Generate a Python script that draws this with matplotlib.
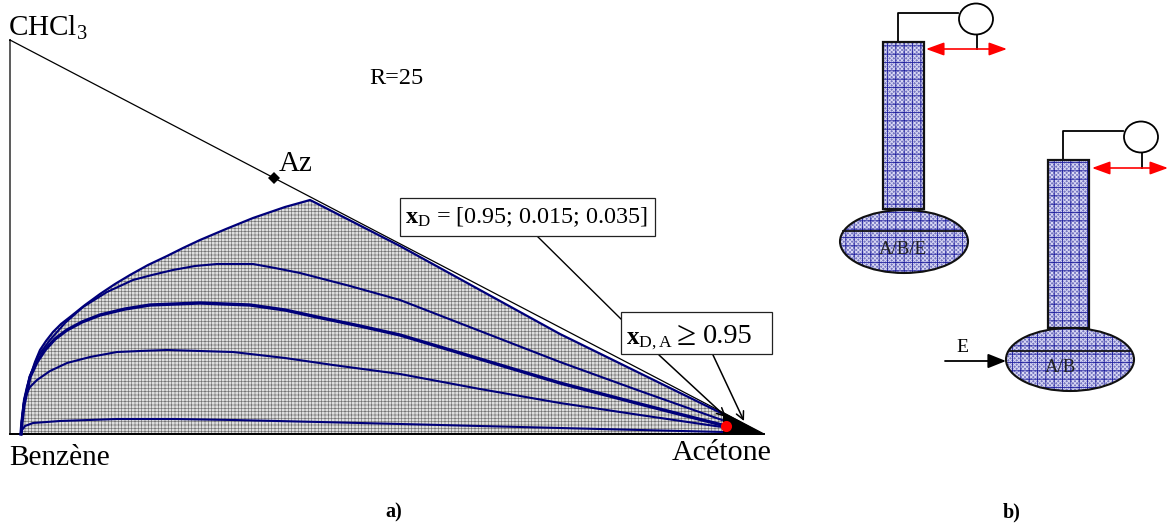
import matplotlib
matplotlib.use("Agg")
import matplotlib.pyplot as plt
from matplotlib.patches import Ellipse, Polygon, Rectangle

plt.rcParams["font.family"] = ["Liberation Serif", "DejaVu Serif"]
plt.rcParams["mathtext.fontset"] = "custom"
plt.rcParams["mathtext.rm"] = "Liberation Serif"
plt.rcParams["mathtext.bf"] = "Liberation Serif:bold"
plt.rcParams["mathtext.it"] = "Liberation Serif:italic"

NAVY = "#00007a"
COL_FILL = "#7474c0"
COL_HATCH = "#2222a0"

# --- Diagramme ternaire (coordonnees lues en pixels sur l'image) ---
triangle_x = [10, 10, 764]
triangle_y = [40, 434, 434]
envelope_x = [21, 21.5, 22, 24, 27, 30, 35, 40, 46, 53, 61, 70, 85, 100, 115, 130, 148, 167, 183,
              200, 226, 253, 285, 303, 310, 316, 400, 560, 723]
envelope_y = [434, 428, 420, 400, 387, 377, 362, 350, 341, 332, 324, 317, 305, 294, 284, 275, 265, 256, 248,
              240, 229, 218, 207, 202, 200, 203, 246, 334, 414]
curve1_x = [21, 22, 24, 30, 38, 50, 65, 83, 107, 133, 152, 173, 195, 217, 235, 253, 275, 300, 350, 400, 480, 560, 640, 722]
curve1_y = [434, 420, 402, 376, 356, 340, 323, 307, 292, 280, 275, 270, 266, 264, 264, 264, 268, 273, 286, 300, 331, 362, 391, 420]
curve2_x = [21, 22, 24, 30, 37, 45, 55, 67, 82, 100, 125, 150, 175, 200, 225, 250, 285, 317, 360, 400, 480, 560, 640, 722]
curve2_y = [434, 422, 405, 377, 362, 350, 339, 330, 322, 315, 309, 305, 304, 303, 304, 305, 310, 317, 326, 335, 359, 383, 404, 425]
curve3_x = [21, 22, 25, 30, 37, 50, 67, 90, 117, 140, 167, 200, 233, 285, 333, 400, 480, 560, 640, 722]
curve3_y = [434, 420, 397, 387, 380, 371, 363, 357, 352, 351, 350, 351, 352, 358, 365, 374, 389, 403, 415, 427]
curve4_x = [21, 22, 25, 33, 60, 117, 175, 233, 320, 400, 480, 560, 640, 723]
curve4_y = [434, 430, 426, 423, 421, 419, 419, 420, 422, 424, 426, 428, 430, 432]
curve_widths = [1.6, 1.5, 2.4, 1.5, 1.5]
shaded_base_x = [723]
shaded_base_y = [434]
wedge_x = [723, 723, 764]
wedge_y = [412, 434, 434]
azeotrope = (274, 178)
distillate = (726, 426)

# --- Colonnes ---
columns = [
    {"rect": (883, 42, 41, 167), "bulb": (904, 241.5, 128, 63), "level": (843, 965, 231),
     "label": "A/B/E", "label_xy": (903, 249), "circle": (976, 19),
     "wire_x": [898, 898, 958], "wire_y": [42, 13, 13], "stem_x": 977, "stem_y": (35, 49),
     "arrow": (926, 1007, 49)},
    {"rect": (1048, 160, 41, 168), "bulb": (1070, 359.5, 128, 63), "level": (1010, 1130, 351),
     "label": "A/B", "label_xy": (1060, 367), "circle": (1141, 137),
     "wire_x": [1063, 1063, 1123], "wire_y": [160, 131, 131], "stem_x": 1142, "stem_y": (153, 168),
     "arrow": (1092, 1168, 168)},
]

fig = plt.figure(figsize=(11.68, 5.26), dpi=100)
ax = fig.add_axes([0, 0, 1, 1])
ax.set_xlim(0, 1168)
ax.set_ylim(526, 0)
ax.axis("off")

# zone grisee
plt.rcParams["hatch.linewidth"] = 0.45
ax.add_patch(Polygon(list(zip(envelope_x + shaded_base_x, envelope_y + shaded_base_y)), closed=True,
                     facecolor="#dedede", edgecolor="#707070", hatch="+++++", lw=0, zorder=1))

ax.plot(triangle_x + [triangle_x[0]], triangle_y + [triangle_y[0]], color="black", lw=0.9, zorder=2)
ax.plot([triangle_x[1], triangle_x[2]], [triangle_y[1], triangle_y[2]], color="black", lw=1.4, zorder=2)

curves = [(envelope_x, envelope_y), (curve1_x, curve1_y), (curve2_x, curve2_y),
          (curve3_x, curve3_y), (curve4_x, curve4_y)]
for (cx, cy), w in zip(curves, curve_widths):
    ax.plot(cx, cy, color=NAVY, lw=w, solid_joinstyle="round", zorder=3)

ax.add_patch(Polygon(list(zip(wedge_x, wedge_y)), closed=True, color="black", lw=0, zorder=4))
ax.plot(*distillate, "o", color="#ff0000", ms=8, mew=0, zorder=5)
ax.plot(*azeotrope, "D", color="black", ms=6.5, mew=0, zorder=5)

# textes du diagramme
ax.text(8, 36, r"CHCl$_{3}$", fontsize=21, va="baseline")
ax.text(279, 171, "Az", fontsize=21, va="baseline")
ax.text(369, 84, "R=25", fontsize=17.5, va="baseline")
ax.text(9, 465, "Benzène", fontsize=21.2, va="baseline")
ax.text(672, 460, "Acétone", fontsize=21.6, va="baseline")
ax.text(385, 517, "a)", fontsize=14.5, fontweight="bold", va="baseline")
ax.text(1003, 517, "b)", fontsize=14.5, fontweight="bold", va="baseline")

# encadres et fleches
ax.plot([537, 622], [236, 320], color="black", lw=1.0, zorder=6)
ax.add_patch(Rectangle((400, 198), 255, 38, fc="white", ec="#222222", lw=0.9, zorder=7))
ax.text(405, 223, r"$\mathbf{x}_{\mathrm{D}}$ = [0.95; 0.015; 0.035]", fontsize=17.4, zorder=8)
ax.add_patch(Rectangle((621, 312), 151, 42, fc="white", ec="#222222", lw=0.9, zorder=7))
ax.text(626, 344, r"$\mathbf{x}_{\mathrm{D,A}}$", fontsize=18, zorder=8)
ax.text(677, 345, "≥", fontsize=25, zorder=8)
ax.text(703, 343, "0.95", fontsize=20.5, zorder=8)
for start, end in [((659, 355), (726, 417)), ((713, 355), (744, 421))]:
    ax.annotate("", xy=end, xytext=start, zorder=6,
                arrowprops=dict(arrowstyle="->", color="black", lw=1.1, mutation_scale=14,
                                shrinkA=0, shrinkB=0))

# colonnes a) et b)
for col in columns:
    x, y, w, h = col["rect"]
    cx, cy, bw, bh = col["bulb"]
    plt.rcParams["hatch.linewidth"] = 0.7
    ax.add_patch(Rectangle((x, y), w, h, fc=COL_FILL, ec="#d8d8f4", hatch="xxxxxxxx", lw=0, zorder=2))
    ax.add_patch(Ellipse((cx, cy), bw, bh, fc=COL_FILL, ec="#d8d8f4", hatch="xxxxxxxx", lw=0, zorder=2))
    plt.rcParams["hatch.linewidth"] = 0.6
    ax.add_patch(Rectangle((x, y), w, h, fc="none", ec=COL_HATCH, hatch="++", lw=0, zorder=2.5))
    ax.add_patch(Ellipse((cx, cy), bw, bh, fc="none", ec=COL_HATCH, hatch="++", lw=0, zorder=2.5))
    ax.add_patch(Rectangle((x, y), w, h, fc="none", ec="#111111", lw=1.6, zorder=3))
    ax.add_patch(Ellipse((cx, cy), bw, bh, fc="none", ec="#111111", lw=1.5, zorder=3))
    x0, x1, ylev = col["level"]
    ax.plot([x0, x1], [ylev, ylev], color="#111111", lw=1.3, zorder=3)
    ax.text(*col["label_xy"], col["label"], fontsize=13.5, ha="center", va="center", zorder=4, color="#222222")
    ax.add_patch(Ellipse(col["circle"], 34, 31, fc="white", ec="black", lw=1.3, zorder=3))
    ax.plot(col["wire_x"], col["wire_y"], color="black", lw=1.3, zorder=2)
    ax.plot([col["stem_x"]] * 2, col["stem_y"], color="black", lw=1.3, zorder=2)
    a0, a1, ay = col["arrow"]
    ax.annotate("", xy=(a1, ay), xytext=(a0, ay), zorder=4,
                arrowprops=dict(arrowstyle="<|-|>,head_length=0.55,head_width=0.2", color="#ff0000",
                                lw=1.2, mutation_scale=20, shrinkA=0, shrinkB=0))

# alimentation E
ax.annotate("", xy=(1006, 361), xytext=(945, 361),
            arrowprops=dict(arrowstyle="-|>,head_length=0.55,head_width=0.22", color="black", lw=1.3,
                            mutation_scale=20, shrinkA=0, shrinkB=0))
ax.text(962, 352, "E", fontsize=14, ha="center", va="baseline")

fig.savefig("out.png", dpi=100)
